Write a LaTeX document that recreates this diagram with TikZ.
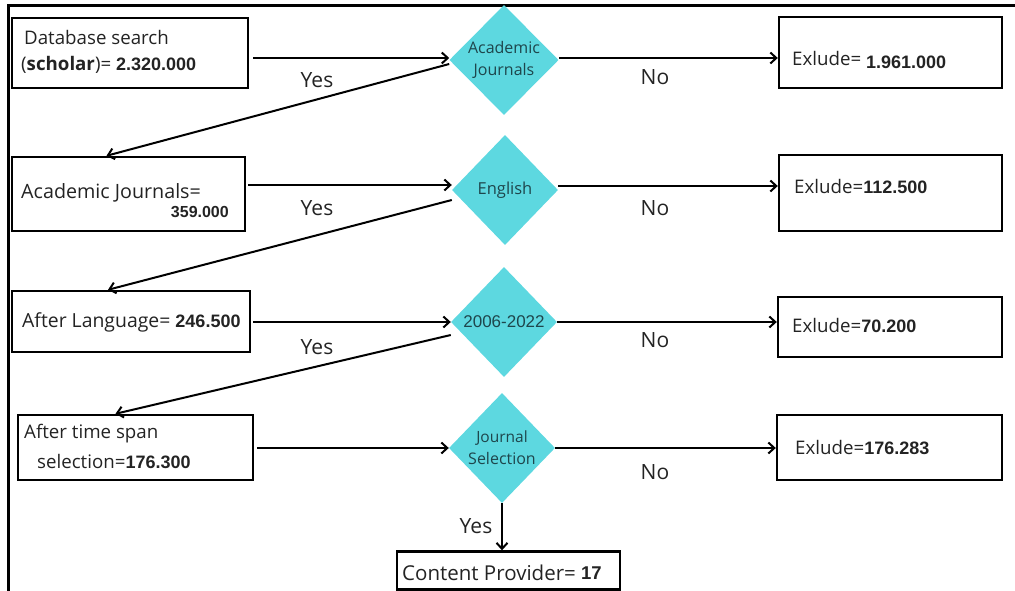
\documentclass[tikz,border=0pt]{standalone}
\usepackage{fontspec}
\setmainfont{Open Sans}
\newfontfamily\numfont{Liberation Sans}
\usetikzlibrary{shapes.geometric,arrows.meta,calc}
\definecolor{decfill}{RGB}{93,216,224}
\definecolor{dectext}{RGB}{30,70,76}
\definecolor{ink}{RGB}{35,35,35}
\newcommand\numb[1]{{\numfont\bfseries\fontsize{18}{21}\selectfont #1}}
\begin{document}
\begin{tikzpicture}[x=1pt,y=-1pt,
  box/.style={draw=black, line width=2.4pt, rectangle, inner sep=0pt},
  decision/.style={diamond, fill=decfill, inner sep=0pt, minimum width=106pt, minimum height=110pt,
    text=dectext, align=center, font=\fontsize{16}{22}\selectfont},
  txt/.style={anchor=west, inner sep=0pt, text=ink, font=\fontsize{18.7}{22}\selectfont},
  lbl/.style={inner sep=0pt, text=ink, font=\fontsize{21}{24}\selectfont},
  arr/.style={line width=2pt, -{Straight Barb[length=6pt,width=11pt,line width=2pt]}}]
\useasboundingbox (0,0) rectangle (1015,591);
\clip (0,0) rectangle (1015,591);
% page frame (top and left rules)
\draw[line width=3pt] (8,591) -- (8,6) -- (1015,6);

% decision diamonds
\node[decision] (d1) at (504,60) {Academic\\Journals};
\node[decision] (d2) at (505,190) {\fontsize{16.5}{19}\selectfont English};
\node[decision] (d3) at (504,322) {\numfont\fontsize{17}{20}\selectfont 2006-2022};
\node[decision] (d4) at (502,448) {\fontsize{15.5}{23}\selectfont Journal\\Selection};

% left-hand count boxes
\node[box, minimum width=236pt, minimum height=70pt] (b1) at (130,53) {};
\node[box, minimum width=233pt, minimum height=74pt] (b2) at (128.5,194) {};
\node[box, minimum width=238pt, minimum height=61pt] (b3) at (131,321.5) {};
\node[box, minimum width=235pt, minimum height=65pt] (b4) at (135.5,447.5) {};

% exclusion boxes
\node[box, minimum width=223pt, minimum height=71pt] (e1) at (890.5,52.5) {};
\node[box, minimum width=223pt, minimum height=76pt] (e2) at (890.5,193) {};
\node[box, minimum width=224pt, minimum height=60pt] (e3) at (890,327) {};
\node[box, minimum width=225pt, minimum height=65pt] (e4) at (889.5,447.5) {};

% final box
\node[box, minimum width=223pt, minimum height=38pt] (cp) at (508.5,570.5) {};

% box texts
\node[txt] (t1a) at (24,37) {Database search};
\node[txt] (t1b) at (21,65) {(\textbf{scholar})= \numb{2.320.000}};
\node[txt, font=\fontsize{19.7}{23}\selectfont] (t2a) at (21,193) {Academic Journals=};
\node[txt, anchor=east] (t2b) at (229,212) {{\numfont\bfseries\fontsize{16}{19}\selectfont 359.000}};
\node[txt, font=\fontsize{19.4}{23}\selectfont] (t3) at (22,322) {After Language= \numb{246.500}};
\node[txt] (t4a) at (24,434) {After time span};
\node[txt] (t4b) at (37,461) {selection=\numb{176.300}};
\node[txt] (x1) at (792,60) {Exlude= \numb{\raisebox{-3pt}{1.961.000}}};
\node[txt] (x2) at (794,186) {Exlude=\numb{112.500}};
\node[txt] (x3) at (792,325) {Exlude=\numb{70.200}};
\node[txt] (x4) at (795,447) {Exlude=\numb{176.283}};
\node[txt, font=\fontsize{20.5}{24}\selectfont] (t5) at (402,573) {Content Provider= {\numfont\bfseries\fontsize{18.5}{21}\selectfont\raisebox{1pt}{17}}};

% connectors
\draw[arr] ([xshift=4pt]b1.east |- 0,58) -- (d1.west |- 0,58);
\draw[arr] (d1.east |- 0,58) -- (e1.west |- 0,58);
\draw[arr] ([yshift=-4pt]d1.west) -- ([xshift=-22pt]b2.north);

\draw[arr] ([xshift=2pt]b2.east |- 0,185) -- (d2.west |- 0,185);
\draw[arr] (d2.east |- 0,186) -- (e2.west |- 0,186);
\draw[arr] ([yshift=-10pt]d2.west) -- ([xshift=-23pt]b3.north);

\draw[arr] ([xshift=2pt]b3.east |- 0,322) -- (d3.west);
\draw[arr] (d3.east) -- (e3.west |- d3.east);
\draw[arr] ([yshift=-13pt]d3.west) -- ([xshift=-20pt]b4.north);

\draw[arr] ([xshift=3pt]b4.east |- d4.west) -- (d4.west);
\draw[arr] (d4.east) -- (e4.west |- d4.east);
\draw[arr] (d4.south) -- (d4.south |- cp.north);

% branch labels
\node[lbl] (y1) at (317,80) {Yes};
\node[lbl] (y2) at (317,208) {Yes};
\node[lbl] (y3) at (317,347) {Yes};
\node[lbl] (y4) at (476,526) {Yes};
\node[lbl] (n1) at (655,77) {No};
\node[lbl] (n2) at (655,208) {No};
\node[lbl] (n3) at (655,340) {No};
\node[lbl] (n4) at (655,472) {No};
\end{tikzpicture}
\end{document}
